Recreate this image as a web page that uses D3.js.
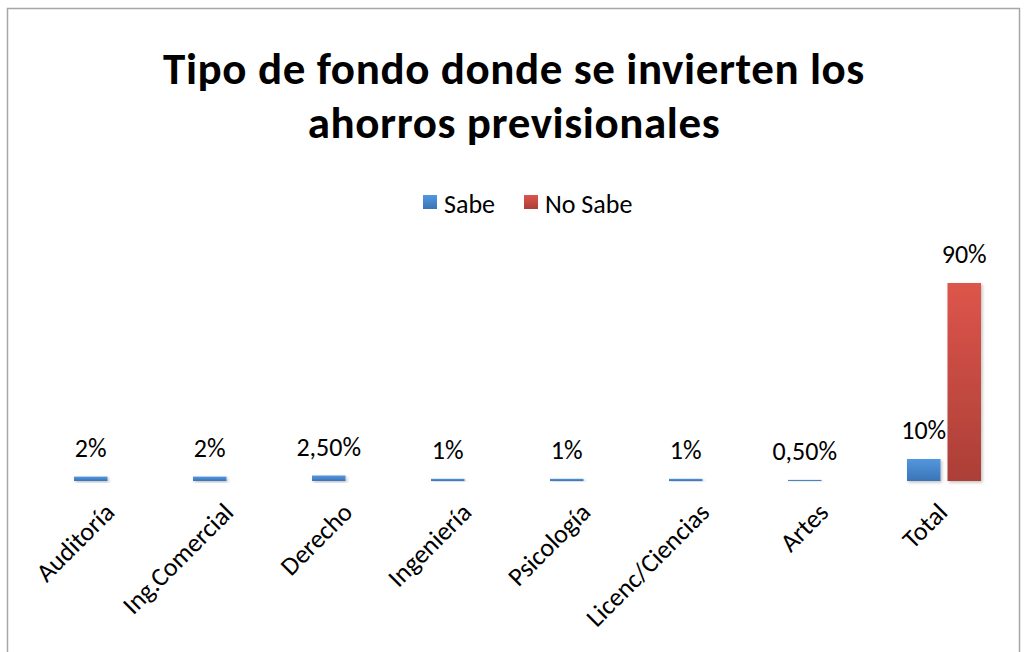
<!DOCTYPE html>
<html>
<head>
<meta charset="utf-8">
<script src="https://cdn.jsdelivr.net/npm/d3@7"></script>
<style>
  html, body { margin: 0; padding: 0; background: #fff; }
  svg text { font-family: Carlito, Lato, "Open Sans", sans-serif; fill: #000; }
</style>
</head>
<body>
<svg id="chart" width="1028" height="652"></svg>
<script>
// Categories and values (percent)
const categories = ['Auditoría', 'Ing.Comercial', 'Derecho', 'Ingeniería', 'Psicología', 'Licenc/Ciencias', 'Artes', 'Total'];
const sabe = [2, 2, 2.5, 1, 1, 1, 0.5, 10];
const noSabe = [null, null, null, null, null, null, null, 90];
const sabeLabels = ['2%', '2%', '2,50%', '1%', '1%', '1%', '0,50%', '10%'];
const noSabeLabels = [null, null, null, null, null, null, null, '90%'];
const seriesNames = ['Sabe', 'No Sabe'];
const titleLines = ['Tipo de fondo donde se invierten los', 'ahorros previsionales'];

const svg = d3.select('#chart');

// Outer chart frame
svg.append('rect')
  .attr('x', 7.5).attr('y', 8.5)
  .attr('width', 1012).attr('height', 660)
  .attr('fill', '#fff')
  .attr('stroke', '#a6a6a6')
  .attr('stroke-width', 1.5);

// Gradients
const defs = svg.append('defs');
const grads = [
  { id: 'gBlue', top: '#5397e0', bottom: '#3b74b5' },
  { id: 'gRed', top: '#dd554b', bottom: '#ab3f37' }
];
grads.forEach(g => {
  const lg = defs.append('linearGradient').attr('id', g.id)
    .attr('x1', 0).attr('y1', 0).attr('x2', 0).attr('y2', 1);
  lg.append('stop').attr('offset', '0%').attr('stop-color', g.top);
  lg.append('stop').attr('offset', '100%').attr('stop-color', g.bottom);
});
const shadow = defs.append('filter').attr('id', 'shadow')
  .attr('x', '-20%').attr('y', '-20%').attr('width', '150%').attr('height', '150%');
shadow.append('feDropShadow')
  .attr('dx', 1.5).attr('dy', 1.5).attr('stdDeviation', 1.5)
  .attr('flood-color', '#000').attr('flood-opacity', 0.25);

// Scales
const x0 = d3.scaleBand().domain(categories).range([51.5, 1003.5]).paddingInner(0);
const x1 = d3.scaleBand().domain(seriesNames).range([22.5, 96.5]).paddingInner(0.173);
const y = d3.scaleLinear().domain([0, 100]).range([481, 261]);

// Title
svg.append('text')
  .attr('text-anchor', 'middle')
  .attr('font-weight', 'bold')
  .attr('font-size', 45)
  .attr('letter-spacing', 0.6)
  .selectAll('tspan')
  .data(titleLines)
  .enter().append('tspan')
  .attr('x', 514)
  .attr('y', (d, i) => 84 + i * 54)
  .text(d => d);

// Legend
const legend = svg.append('g');
const legendItems = [
  { name: seriesNames[0], fill: 'url(#gBlue)', x: 423 },
  { name: seriesNames[1], fill: 'url(#gRed)', x: 524 }
];
legendItems.forEach(it => {
  legend.append('rect')
    .attr('x', it.x).attr('y', 195)
    .attr('width', 14).attr('height', 14)
    .attr('fill', it.fill);
  legend.append('text')
    .attr('x', it.x + 21).attr('y', 213)
    .attr('font-size', 26)
    .text(it.name);
});

// Bars
const rows = categories.map((c, i) => ({
  cat: c,
  vals: [
    { s: seriesNames[0], v: sabe[i], label: sabeLabels[i], fill: 'url(#gBlue)' },
    { s: seriesNames[1], v: noSabe[i], label: noSabeLabels[i], fill: 'url(#gRed)' }
  ]
}));

const groups = svg.append('g').selectAll('g')
  .data(rows)
  .enter().append('g')
  .attr('transform', d => `translate(${x0(d.cat)},0)`);

groups.selectAll('rect')
  .data(d => d.vals.filter(v => v.v != null))
  .enter().append('rect')
  .attr('x', d => x1(d.s))
  .attr('width', x1.bandwidth())
  .attr('y', d => y(d.v))
  .attr('height', d => y(0) - y(d.v))
  .attr('fill', d => d.fill)
  .attr('filter', 'url(#shadow)');

groups.selectAll('text.lbl')
  .data(d => d.vals.filter(v => v.label != null))
  .enter().append('text')
  .attr('class', 'lbl')
  .attr('x', d => x1(d.s) + x1.bandwidth() / 2)
  .attr('y', d => y(d.v) - 20)
  .attr('text-anchor', 'middle')
  .attr('font-size', 26)
  .text(d => d.label);

// X axis baseline
svg.append('line')
  .attr('x1', 50).attr('x2', 1000)
  .attr('y1', y(0) + 0.5).attr('y2', y(0) + 0.5)
  .attr('stroke', '#9c9c9c')
  .attr('stroke-width', 2)
  .attr('filter', 'url(#shadow)');

// Category labels, rotated -45
svg.append('g').selectAll('text')
  .data(categories)
  .enter().append('text')
  .attr('text-anchor', 'end')
  .attr('font-size', 26)
  .attr('transform', d => {
    const cx = x0(d) + x0.bandwidth() / 2 + 5;
    return `translate(${cx},${y(0) + 33}) rotate(-45)`;
  })
  .text(d => d);
</script>
</body>
</html>
